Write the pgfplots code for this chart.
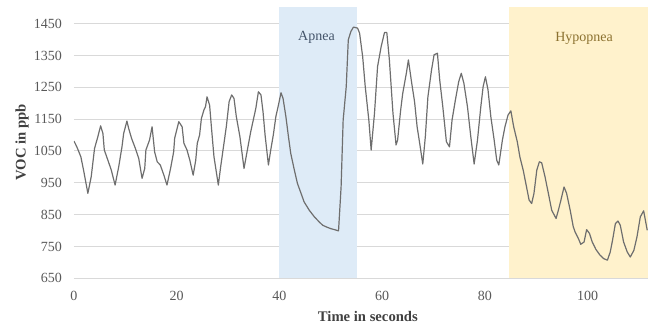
\documentclass[border=0pt]{standalone}
\usepackage{fontspec}
\setmainfont{Liberation Serif}
\usepackage{pgfplots}
\usepackage{pgfplotstable}
\pgfplotsset{compat=1.18}
\definecolor{gridgray}{HTML}{D9D9D9}
\definecolor{tickgray}{HTML}{595959}
\definecolor{labelgray}{HTML}{404040}
\definecolor{linegray}{HTML}{6E6E6E}
\definecolor{apneafill}{HTML}{DEEBF7}
\definecolor{hypofill}{HTML}{FFF2CC}
\definecolor{apneatext}{HTML}{44546A}
\definecolor{hypotext}{HTML}{8C7230}
\pgfplotstableread{
t v
0 1081
0.55 1063
1.33 1032
1.86 990
2.7 917
3.35 969
4.0 1058
4.65 1095
5.18 1129
5.63 1105
5.9 1053
6.6 1021
7.26 990
8.0 943
8.7 1000
9.34 1063
9.67 1105
10.3 1144
10.64 1121
11.2 1090
11.95 1058
12.6 1027
13.25 964
13.77 995
14.0 1053
14.7 1084
15.2 1126
15.7 1047
16.2 1016
16.8 1006
17.5 974
18.1 943
18.8 995
19.4 1047
19.6 1090
20.4 1142
21.05 1126
21.4 1074
22.0 1053
22.55 1021
23.2 974
23.7 1021
24.0 1074
24.45 1100
24.8 1152
25.3 1179
25.6 1189
25.9 1220
26.4 1194
26.8 1116
27.25 1032
28.1 943
28.55 1000
29.1 1063
29.65 1126
30.2 1205
30.7 1226
31.15 1215
31.6 1158
32.3 1095
33.1 995
33.75 1053
34.4 1110
34.9 1147
35.4 1184
35.9 1236
36.4 1226
36.8 1173
37.2 1100
37.85 1006
38.3 1053
38.8 1100
39.3 1158
39.8 1194
40.3 1233
40.7 1215
41.25 1158
41.75 1095
42.2 1042
42.9 990
43.5 948
44.2 917
44.8 890
45.8 864
46.8 843
47.75 827
48.4 817
49.05 812
50.0 806
50.7 803
51.5 799
52.0 937
52.4 1147
53.0 1252
53.4 1399
53.9 1425
54.4 1439
55.2 1436
55.6 1420
56.2 1346
56.7 1252
57.4 1147
57.85 1053
58.5 1168
59.1 1315
59.8 1378
60.45 1422
60.9 1422
61.4 1336
62.1 1168
62.7 1069
63.0 1084
63.6 1179
64.0 1231
64.7 1294
65.1 1336
65.7 1268
66.3 1205
66.8 1126
67.3 1074
67.9 1009
68.4 1095
68.9 1220
69.6 1304
70.1 1352
70.75 1357
71.2 1273
71.8 1189
72.5 1079
73.1 1063
73.6 1147
74.25 1210
74.9 1268
75.4 1294
75.9 1263
76.6 1189
77.25 1095
77.9 1009
78.55 1084
79.2 1189
79.65 1252
80.1 1283
80.6 1242
81.15 1158
81.8 1084
82.3 1021
82.7 1006
83.4 1084
83.9 1126
84.5 1163
85.05 1176
85.6 1126
86.3 1079
86.8 1032
87.45 990
88.1 937
88.6 896
89.1 885
89.55 917
90.1 990
90.6 1016
91.05 1013
91.7 969
92.35 917
93.0 864
93.85 838
94.3 864
94.8 896
95.4 937
95.9 917
96.6 864
97.2 812
97.55 796
98.2 775
98.65 757
99.3 764
99.8 803
100.35 791
100.9 764
101.6 741
102.4 723
103.1 712
103.85 707
104.4 733
104.85 770
105.4 822
105.9 830
106.35 817
107.0 764
107.7 733
108.3 717
109.0 738
109.6 780
110.25 843
110.9 862
111.6 801
}\voc
\begin{document}
\begin{tikzpicture}
\begin{axis}[
  at={(0,0)}, anchor=south west,
  scale only axis,
  width=430.5pt, height=203.7pt,
  xmin=0, xmax=111.75,
  ymin=650, ymax=1503,
  xtick={0,20,40,60,80,100},
  ytick={650,750,850,950,1050,1150,1250,1350,1450},
  ymajorgrids,
  grid style={gridgray, line width=0.75pt},
  axis x line*=bottom,
  axis y line*=left,
  y axis line style={draw=none},
  x axis line style={gridgray, line width=0.75pt, -},
  major tick length=0pt,
  /pgf/number format/assume math mode=true,
  /pgf/number format/1000 sep={},
  tick label style={font=\fontsize{10.5}{12}\selectfont, text=tickgray},
  yticklabel style={xshift=-5.5pt},
  xticklabel style={yshift=-6pt},
  xlabel={Time in seconds},
  ylabel={VOC in ppb},
  label style={font=\fontsize{11}{13}\selectfont\bfseries, text=labelgray},
  xlabel style={at={(axis description cs:0.512,-0.139)}, anchor=center},
  ylabel style={at={(axis description cs:-0.0906,0.5)}, anchor=center},
  clip=true,
]
\addplot[draw=none, fill=apneafill] coordinates {(40,650) (55,650) (55,1503) (40,1503)} -- cycle;
\addplot[draw=none, fill=hypofill] coordinates {(84.6,650) (111.75,650) (111.75,1503) (84.6,1503)} -- cycle;
\addplot[linegray, line width=0.9pt, line join=round] table[x=t, y=v] {\voc};
\node[font=\fontsize{10.5}{12}\selectfont, text=apneatext] at (axis cs:47.2,1408) {Apnea};
\node[font=\fontsize{10.5}{12}\selectfont, text=hypotext] at (axis cs:99.3,1405) {Hypopnea};
\end{axis}
\pgfresetboundingbox
\useasboundingbox (-55.5pt,-35pt) rectangle (433.5pt,208.75pt);
\end{tikzpicture}
\end{document}
